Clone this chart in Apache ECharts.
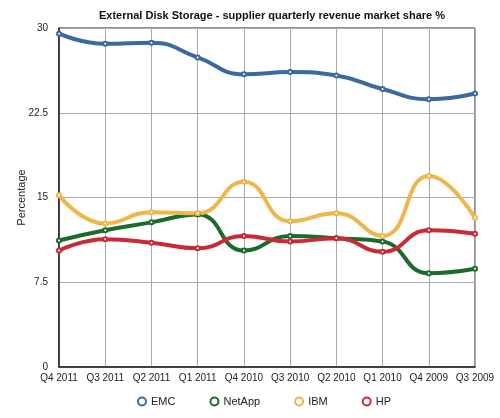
<!DOCTYPE html>
<html><head><meta charset="utf-8">
<script src="https://cdn.jsdelivr.net/npm/echarts@6/dist/echarts.min.js"></script>
<style>html,body{margin:0;padding:0;background:#fff}#c{width:500px;height:418px}</style>
</head><body><div id="c"></div>
<script>
var categories = ['Q4 2011','Q3 2011','Q2 2011','Q1 2011','Q4 2010','Q3 2010','Q2 2010','Q1 2010','Q4 2009','Q3 2009'];
var emc    = [29.5, 28.6, 28.7, 27.4, 25.9, 26.1, 25.8, 24.6, 23.7, 24.2];
var netapp = [11.2, 12.1, 12.8, 13.5, 10.3, 11.6, 11.4, 11.1, 8.3, 8.7];
var ibm    = [15.2, 12.7, 13.7, 13.6, 16.4, 12.9, 13.6, 11.6, 16.9, 13.2];
var hp     = [10.3, 11.3, 11.0, 10.5, 11.6, 11.1, 11.4, 10.2, 12.1, 11.8];
var yTicks = ['0','7.5','15','22.5','30'];

function mk(name, data, color){
  return {name:name, type:'line', data:data, smooth:0.5, symbol:'emptyCircle', symbolSize:4,
    lineStyle:{width:4, color:color}, itemStyle:{color:color, borderColor:color, borderWidth:1},
    emphasis:{disabled:true}};
}
var chart = echarts.init(document.getElementById('c'), null, {renderer:'canvas'});
chart.setOption({
  animation:false,
  title:{text:'External Disk Storage - supplier quarterly revenue market share %', left:267, top:5, textAlign:'center',
    textStyle:{fontFamily:'Liberation Sans, Arial', fontSize:11, fontWeight:'bold', color:'#111'}},
  grid:{left:59, right:25, top:28, bottom:51, show:true, borderColor:'#222', borderWidth:1},
  legend:{bottom:6, left:132, itemGap:34, itemWidth:8, itemHeight:8, icon:'emptyCircle',
    textStyle:{fontFamily:'Liberation Sans, Arial', fontSize:11, color:'#222'},
    data:['EMC','NetApp','IBM','HP']},
  xAxis:{type:'category', data:categories, boundaryGap:false,
    axisLine:{lineStyle:{color:'#222', width:1.5}}, axisTick:{show:false},
    axisLabel:{interval:0, color:'#222', fontSize:10, fontFamily:'Liberation Sans, Arial', margin:6},
    splitLine:{show:true, lineStyle:{color:'#aaa'}}},
  yAxis:{type:'value', min:0, max:30, interval:7.5, name:'Percentage', nameLocation:'middle', nameGap:32,
    nameMoveOverlap:false,
    nameTextStyle:{fontFamily:'Liberation Sans, Arial', fontSize:11, color:'#222'},
    axisLine:{show:true, lineStyle:{color:'#222', width:1.5}}, axisTick:{show:false},
    axisLabel:{color:'#222', fontSize:10, fontFamily:'Liberation Sans, Arial', margin:11,
      formatter:function(v){var i=Math.round(v/7.5);return yTicks[i]!==undefined?yTicks[i]:'';}},
    splitLine:{show:true, lineStyle:{color:'#aaa'}}},
  series:[mk('EMC',emc,'#3b6a9c'), mk('NetApp',netapp,'#1d6b2c'), mk('IBM',ibm,'#eeb74c'), mk('HP',hp,'#c92a36')]
});
</script></body></html>
